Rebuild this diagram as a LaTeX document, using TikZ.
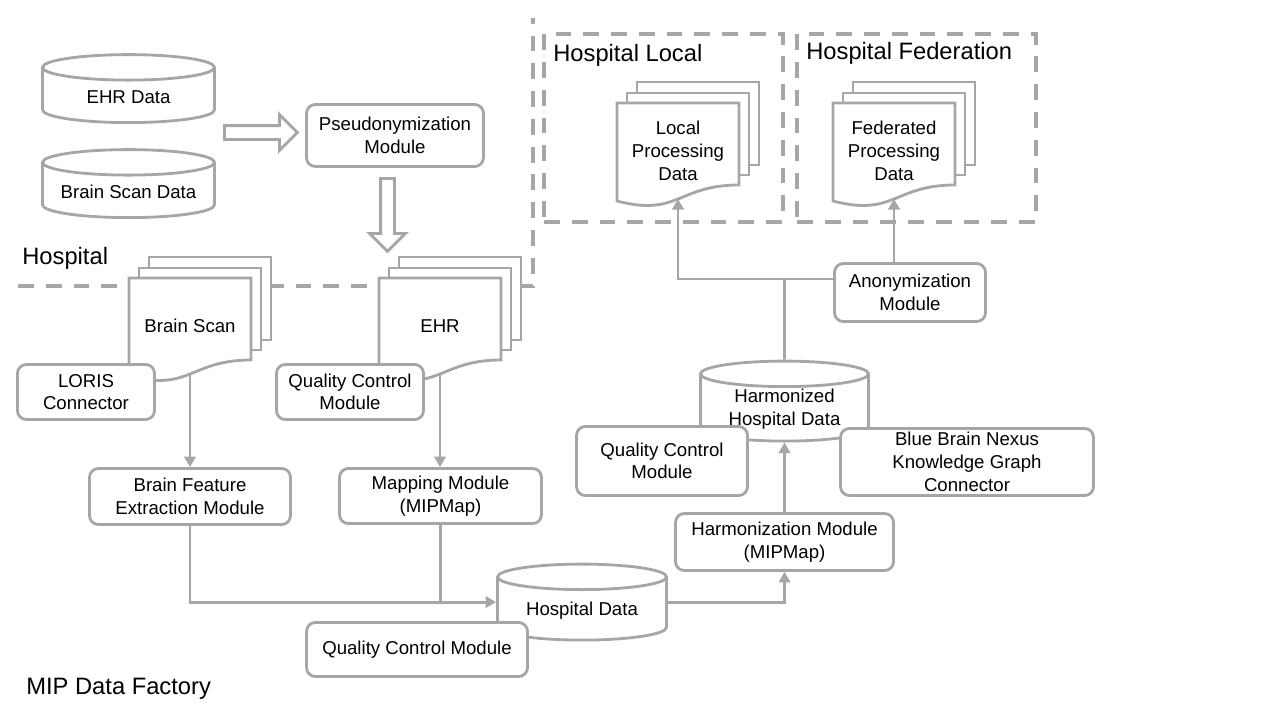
\documentclass[tikz,border=0pt]{standalone}
\usepackage{fontspec}
\setmainfont{Liberation Sans}
\usetikzlibrary{arrows.meta,positioning,calc,shapes.geometric,shapes.arrows}
\definecolor{lineGray}{RGB}{166,166,166}
\tikzstyle{module}     =[draw=lineGray,line width=1.6pt,rounded corners=5pt,fill=white,align=center,inner sep=0pt]
\tikzstyle{dataBase}   =[draw=lineGray,line width=1.6pt,fill=white,cylinder,shape border rotate=90,aspect=0.17,inner ysep=0pt,inner xsep=1.5cm]
\tikzstyle{dbText}     =[align=center,inner sep=0pt,yshift=3pt]
\tikzstyle{page}       =[draw=lineGray,line width=1.6pt,fill=white]
\tikzstyle{region}     =[draw=lineGray,line width=2pt,dash pattern=on 9pt off 6.8pt]
\tikzstyle{flow}       =[draw=lineGray,line width=1.6pt,-{Triangle[length=6pt,width=6.5pt]}]
\tikzstyle{wire}       =[draw=lineGray,line width=1.6pt]
\tikzstyle{hollowArrow}=[draw=lineGray,line width=1.6pt,fill=white,single arrow,single arrow head extend=0.22cm,inner xsep=0pt,inner ysep=0.11cm,minimum height=1.46cm]
\tikzstyle{title}      =[font=\fontsize{13.5}{16}\selectfont,anchor=west,inner sep=0pt]

\newcommand{\docstack}[4]{
	\draw[page] (#2+20,#3-21) rectangle ++(122,83);
	\draw[page] (#2+10,#3-10) rectangle ++(122,82);
	\draw[page] (#2,#3) -- (#2+122,#3) -- (#2+122,#3+82) .. controls (#2+61,#3+82) and (#2+61,#3+114) .. (#2,#3+98) -- cycle;
	\node[align=center,inner sep=0pt] (#1) at (#2+61,#3+48) {#4};
	\coordinate (#1-b) at (#2+61,#3+96);
}

\begin{document}
\begin{tikzpicture}[x=0.02cm,y=-0.02cm,font=\fontsize{10.6}{12.9}\selectfont]
\useasboundingbox (0,0) rectangle (1280,720);

\draw[region] (18,286) -- (533,286) -- (533,18);
\node[region,minimum width=4.78cm,minimum height=3.76cm] (localSite) at (663.5,128) {};
\node[region,minimum width=4.78cm,minimum height=3.76cm] (fedSite) at (916.5,128) {};
\node[title] (hospitalLbl) at (22,258) {Hospital};
\node[title] (localLbl) at (553,55) {Hospital Local};
\node[title] (fedLbl) at (806,53) {Hospital Federation};
\node[title] (factoryLbl) at (26,689) {MIP Data Factory};

\docstack{bsDoc}{129}{278}{Brain Scan}
\docstack{ehrDoc}{379}{278}{EHR}
\docstack{localDoc}{617}{103}{Local\\Processing\\Data}
\docstack{fedDoc}{833}{103}{Federated\\Processing\\Data}

\node[dataBase,minimum width=3.44cm,minimum height=1.36cm,label={[dbText,name=ehrDataTxt]center:EHR Data}] (ehrData) at (128.5,102) {};
\node[dataBase,minimum width=3.44cm,minimum height=1.36cm,label={[dbText,name=scanDataTxt]center:Brain Scan Data}] (scanData) at (128.5,197) {};
\node[dataBase,minimum width=3.38cm,minimum height=1.52cm,label={[dbText,name=hospDataTxt]center:Hospital Data}] (hospData) at (582,615.5) {};
\node[dataBase,minimum width=3.36cm,minimum height=1.6cm,label={[dbText,name=harmDataTxt]center:Harmonized\\Hospital Data}] (harmData) at (784.5,414.5) {};

\node[hollowArrow] (toPseudo) at (257.5,132.5) {};
\node[hollowArrow,rotate=-90] (toRecords) at (387.5,211.5) {};

\node[module,minimum width=3.54cm,minimum height=1.24cm] (pseudo) at (395,135.5) {Pseudonymization\\Module};
\node[module,minimum width=2.74cm,minimum height=1.1cm] (loris) at (86,392) {LORIS\\Connector};
\node[module,minimum width=2.94cm,minimum height=1.1cm] (qcEhr) at (350,392) {Quality Control\\Module};
\node[module,minimum width=4.02cm,minimum height=1.12cm] (feature) at (190,496.5) {Brain Feature\\Extraction Module};
\node[module,minimum width=4.04cm,minimum height=1.1cm] (mapping) at (440.5,496) {Mapping Module\\(MIPMap)};
\node[module,minimum width=4.42cm,minimum height=1.08cm] (qcHosp) at (417,649.5) {Quality Control Module};
\node[module,minimum width=4.36cm,minimum height=1.14cm] (harmon) at (784.5,542) {Harmonization Module\\(MIPMap)};
\node[module,minimum width=3.42cm,minimum height=1.38cm] (qcHarm) at (662,461) {Quality Control\\Module};
\node[module,minimum width=5.06cm,minimum height=1.34cm] (nexus) at (967,462) {Blue Brain Nexus\\Knowledge Graph\\Connector};
\node[module,minimum width=3.02cm,minimum height=1.16cm] (anonym) at (910,292.5) {Anonymization\\Module};

\draw[flow] (bsDoc-b) -- (bsDoc-b |- feature.north);
\draw[flow] (ehrDoc-b) -- (ehrDoc-b |- mapping.north);
\draw[flow] (feature.south) |- (hospData.west |- hospData.shape center);
\draw[wire] (mapping.south) -- (mapping.south |- hospData.shape center);
\draw[flow] (hospData.east |- hospData.shape center) -| (harmon.south);
\draw[flow] (harmon.north) -- (harmData.south);
\coordinate (split) at (784.5,279);
\draw[wire] (harmData.north) -- (split);
\draw[flow] (split) -| (localDoc-b);
\draw[wire] (split) -- (split -| anonym.west);
\draw[flow] (anonym.north -| fedDoc-b) -- (fedDoc-b);
\end{tikzpicture}
\end{document}
